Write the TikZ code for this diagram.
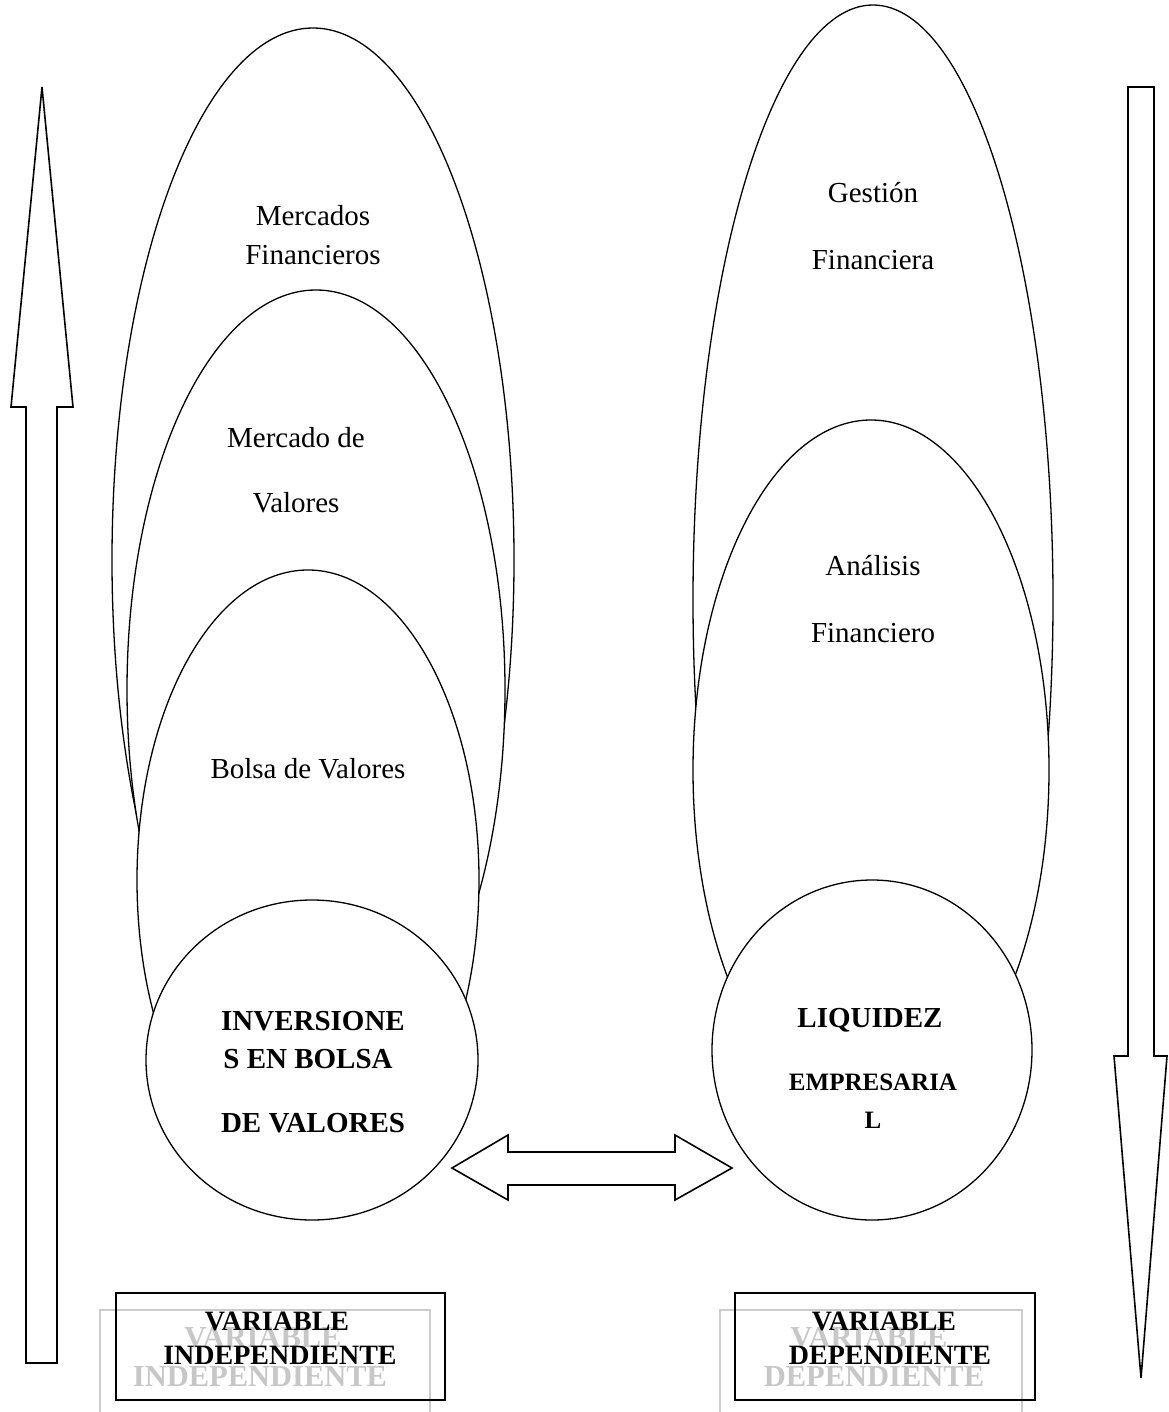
\documentclass[tikz,border=0pt]{standalone}
\usepackage{fontspec}
\setmainfont{Liberation Serif}[BoldFont={Liberation Serif Bold}]
\usetikzlibrary{shapes.geometric}
\begin{document}
\begin{tikzpicture}[x=1pt,y=-1pt,
  oval/.style={ellipse, draw, fill=white, line width=1.3pt, inner sep=0pt},
  txt/.style={anchor=base, inner sep=0pt, font=\fontsize{29}{34}\selectfont},
  btxt/.style={anchor=base, inner sep=0pt, font=\fontsize{29}{34}\selectfont\bfseries},
  blockarrow/.style={draw, fill=white, line width=1.6pt, line join=miter},
  varbox/.style={draw, line width=1.8pt},
  ghostbox/.style={draw=black!20, line width=1.8pt},
  ghosttxt/.style={anchor=base, inner sep=0pt, text=black!22, font=\fontsize{30.5}{34}\selectfont\bfseries},
  vartxt/.style={anchor=base, inner sep=0pt, font=\fontsize{28}{34}\selectfont\bfseries}]
\useasboundingbox (0,0) rectangle (1168,1412);

% independent variable: nested ovals
\node[oval, minimum width=402pt, minimum height=1064pt] (mf) at (313,560) {};
\node[oval, minimum width=378pt, minimum height=800pt] (mv) at (316,690) {};
\node[oval, minimum width=342pt, minimum height=620pt] (bv) at (308,880) {};
\node[oval, minimum width=332pt, minimum height=320pt] (inv) at (312,1060) {};

\node[txt] (mf1) at (313,226) {Mercados};
\node[txt] (mf2) at (313,265) {Financieros};
\node[txt] (mv1) at (296,447) {Mercado de};
\node[txt] (mv2) at (296,512) {Valores};
\node[txt] (bv1) at (308,778) {Bolsa de Valores};
\node[btxt] (inv1) at (313,1030) {INVERSIONE};
\node[btxt] (inv2) at (308,1068) {S EN BOLSA};
\node[btxt] (inv3) at (313,1132) {DE VALORES};

% dependent variable: nested ovals
\node[oval, minimum width=360pt, minimum height=1190pt] (gf) at (873,600) {};
\node[oval, minimum width=356pt, minimum height=700pt] (af) at (871,770) {};
\node[oval, minimum width=320pt, minimum height=340pt] (liq) at (872,1050) {};

\node[txt] (gf1) at (873,203) {Gestión};
\node[txt] (gf2) at (873,270) {Financiera};
\node[txt] (af1) at (873,575) {Análisis};
\node[txt] (af2) at (873,642) {Financiero};
\node[btxt] (liq1) at (870,1027) {LIQUIDEZ};
\node[btxt, font=\fontsize{25}{30}\selectfont\bfseries] (liq2) at (873,1090) {EMPRESARIA};
\node[btxt, font=\fontsize{25}{30}\selectfont\bfseries] (liq3) at (873,1128) {L};

% two-headed block arrow between the circles
\draw[blockarrow] (452,1168) -- (508,1135) -- (508,1152) -- (675,1152) -- (675,1135)
  -- (732,1168) -- (675,1200) -- (675,1185) -- (508,1185) -- (508,1200) -- cycle;

% upward block arrow on the left
\draw[blockarrow] (42,87) -- (73,407) -- (57,407) -- (57,1363) -- (26,1363)
  -- (26,407) -- (11,407) -- cycle;

% downward block arrow on the right
\draw[blockarrow] (1128,87) -- (1154,87) -- (1154,1056) -- (1167,1056) -- (1141,1378)
  -- (1114,1056) -- (1128,1056) -- cycle;

% variable labels with their faint shadow copies
\draw[ghostbox] (100,1412) -- (100,1310) -- (430,1310) -- (430,1412);
\node[ghosttxt] (gi1) at (263,1347) {VARIABLE};
\node[ghosttxt] (gi2) at (260,1386) {INDEPENDIENTE};
\node[varbox, minimum width=329pt, minimum height=107pt, inner sep=0pt] (vi) at (280.5,1346.5) {};
\node[vartxt] (vi1) at (277,1330) {VARIABLE};
\node[vartxt] (vi2) at (280,1364) {INDEPENDIENTE};

\draw[ghostbox] (720,1412) -- (720,1310) -- (1022,1310) -- (1022,1412);
\node[ghosttxt] (gd1) at (869,1347) {VARIABLE};
\node[ghosttxt] (gd2) at (874,1386) {DEPENDIENTE};
\node[varbox, minimum width=300pt, minimum height=107pt, inner sep=0pt] (vd) at (885,1346.5) {};
\node[vartxt] (vd1) at (884,1330) {VARIABLE};
\node[vartxt] (vd2) at (890,1364) {DEPENDIENTE};
\end{tikzpicture}
\end{document}
